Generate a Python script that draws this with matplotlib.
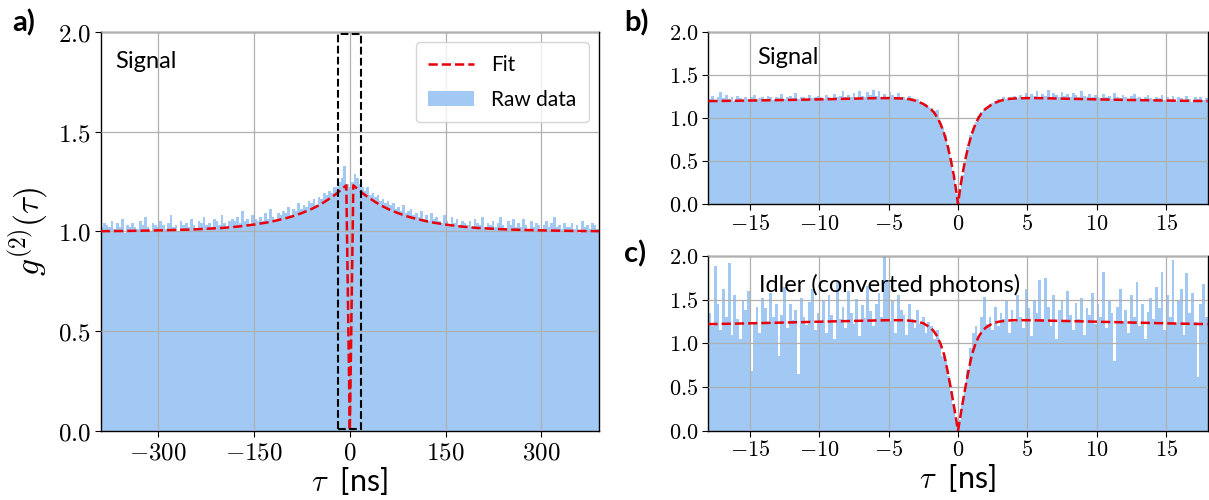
import numpy as np
import matplotlib
matplotlib.use("Agg")
import matplotlib.pyplot as plt
from matplotlib.ticker import FuncFormatter, MultipleLocator
from matplotlib.patches import Rectangle

plt.rcParams['font.family'] = ['Lato', 'DejaVu Sans']
plt.rcParams['mathtext.fontset'] = 'cm'

# ---- panel a: signal, wide window (4 ns bins, -390..390 ns) ----
raw_a = [
    1.02, 1.04,
    1.03, 1.02, 1.05, 1.01, 1.04, 1.02, 1.06, 0.99, 1.03, 1.02,
    1.04, 1.02, 1.01, 1.05, 1.03, 1.07, 1.02, 1.00, 1.04, 1.03,
    1.02, 1.05, 1.03, 1.01, 1.04, 1.08, 1.02, 1.03, 1.00, 1.05,
    1.03, 1.04, 1.02, 1.06, 1.03, 1.01, 1.05, 1.04, 1.07, 1.03,
    1.04, 1.02, 1.06, 1.05, 1.03, 1.08, 1.04, 1.02, 1.05, 1.06,
    1.05, 1.07, 1.04, 1.10, 1.05, 1.06, 1.03, 1.08, 1.06, 1.05,
    1.07, 1.05, 1.09, 1.06, 1.11, 1.07, 1.05, 1.09, 1.08, 1.10,
    1.09, 1.12, 1.08, 1.11, 1.10, 1.14, 1.11, 1.13, 1.12, 1.15,
    1.14, 1.16, 1.13, 1.17, 1.16, 1.19, 1.18, 1.20, 1.19, 1.22,
    1.22, 1.25, 1.27, 1.33, 1.24,
    1.22,
    1.25, 1.29, 1.27, 1.24, 1.22,
    1.20, 1.22, 1.18, 1.19, 1.17, 1.18, 1.15, 1.16, 1.14, 1.15,
    1.13, 1.14, 1.11, 1.12, 1.10, 1.13, 1.09, 1.10, 1.11, 1.08,
    1.09, 1.07, 1.10, 1.06, 1.08, 1.05, 1.09, 1.06, 1.07, 1.05,
    1.04, 1.08, 1.05, 1.03, 1.07, 1.04, 1.06, 1.02, 1.05, 1.04,
    1.03, 1.05, 1.02, 1.06, 1.04, 1.03, 1.07, 1.02, 1.04, 1.03,
    1.05, 1.02, 1.04, 1.07, 1.03, 1.01, 1.05, 1.03, 1.06, 1.02,
    1.04, 1.02, 1.06, 1.03, 1.01, 1.05, 1.02, 1.04, 1.03, 1.00,
    1.03, 1.05, 1.02, 1.04, 1.07, 1.02, 1.03, 1.01, 1.04, 1.02,
    1.02, 1.04, 1.01, 1.03, 0.99, 1.05, 1.02, 1.03, 1.01, 1.04,
    1.03, 1.01,
]
fit_a_tau = [0, 5.5, 10, 15, 20, 30, 40, 50, 60, 75, 90, 100, 125, 150, 175,
             200, 250, 300, 350, 390]
fit_a_g = [0.0, 1.231, 1.219, 1.205, 1.191, 1.168, 1.147, 1.128, 1.112, 1.092,
           1.075, 1.066, 1.047, 1.034, 1.024, 1.017, 1.009, 1.005, 1.002, 1.001]

# ---- panel b: signal, zoom (0.2 ns bins, -18..18 ns) ----
raw_b = [
    1.22, 1.26, 1.21, 1.25, 1.30, 1.23, 1.27, 1.22, 1.24, 1.20,
    1.26, 1.23, 1.21, 1.25, 1.22, 1.24, 1.27, 1.21, 1.23, 1.25,
    1.22, 1.26, 1.24, 1.21, 1.25, 1.23, 1.28, 1.22, 1.24, 1.26,
    1.23, 1.29, 1.22, 1.25, 1.24, 1.21, 1.27, 1.23, 1.25, 1.26,
    1.24, 1.22, 1.27, 1.25, 1.23, 1.28, 1.24, 1.26, 1.31, 1.24,
    1.27, 1.25, 1.29, 1.23, 1.32, 1.26, 1.24, 1.30, 1.27, 1.33,
    1.26, 1.31, 1.25, 1.28, 1.24, 1.30, 1.27, 1.25, 1.29, 1.24,
    1.24, 1.22, 1.26, 1.23, 1.21, 1.22, 1.19, 1.18, 1.16, 1.13,
    1.12, 1.08, 1.09, 0.97, 0.89, 0.80, 0.67, 0.51, 0.33, 0.12,
    0.13, 0.34, 0.50, 0.67, 0.80, 0.88, 0.96, 1.02, 1.07, 1.10,
    1.13, 1.16, 1.18, 1.20, 1.22, 1.21, 1.24, 1.22, 1.25, 1.23,
    1.26, 1.23, 1.27, 1.25, 1.29, 1.24, 1.28, 1.26, 1.31, 1.25,
    1.28, 1.26, 1.33, 1.25, 1.29, 1.27, 1.24, 1.30, 1.26, 1.28,
    1.25, 1.29, 1.27, 1.24, 1.31, 1.26, 1.25, 1.28, 1.24, 1.27,
    1.25, 1.23, 1.28, 1.24, 1.26, 1.22, 1.29, 1.25, 1.23, 1.27,
    1.24, 1.22, 1.26, 1.28, 1.23, 1.25, 1.21, 1.24, 1.27, 1.23,
    1.22, 1.25, 1.23, 1.27, 1.21, 1.24, 1.22, 1.26, 1.20, 1.24,
    1.23, 1.21, 1.26, 1.22, 1.19, 1.24, 1.22, 1.25, 1.21, 1.23,
]
fit_b_tau = [0, 0.1, 0.2, 0.3, 0.5, 0.75, 1.0, 1.25, 1.5, 1.75, 2.0, 2.5, 3.0,
             3.5, 4, 5, 6, 8, 10, 12, 14, 16, 18]
fit_b_g = [0.0, 0.12, 0.23, 0.33, 0.50, 0.68, 0.82, 0.93, 1.01, 1.07, 1.11,
           1.165, 1.20, 1.22, 1.228, 1.233, 1.232, 1.225, 1.218, 1.212, 1.207,
           1.202, 1.198]

# ---- panel c: idler (converted photons), zoom ----
raw_c = [
    1.35, 1.20, 1.88, 1.45, 1.15, 1.62, 1.30, 1.92, 1.10, 1.55,
    1.28, 1.05, 1.48, 1.38, 1.60, 0.68, 1.25, 1.42, 1.12, 1.52,
    1.40, 1.22, 1.58, 1.30, 1.45, 0.86, 1.33, 1.65, 1.18, 1.45,
    1.27, 1.38, 0.65, 1.52, 1.30, 1.21, 1.47, 1.62, 1.15, 1.35,
    1.26, 1.48, 1.12, 1.55, 1.32, 1.05, 1.70, 1.28, 1.42, 1.18,
    1.60, 1.35, 1.22, 1.51, 1.08, 1.44, 1.29, 1.66, 1.37, 1.20,
    1.45, 1.58, 1.30, 2.00, 1.72, 1.26, 1.50, 1.12, 1.55, 1.38,
    1.32, 1.10, 1.45, 1.28, 1.18, 1.38, 1.22, 1.30, 1.12, 1.25,
    1.20, 1.05, 1.15, 0.98, 0.85, 0.82, 0.63, 0.45, 0.30, 0.10,
    0.12, 0.31, 0.49, 0.70, 0.95, 1.12, 1.20, 1.08, 1.30, 1.53,
    1.22, 1.30, 1.15, 1.42, 1.20, 1.35, 1.28, 1.48, 1.12, 1.38,
    1.25, 1.55, 1.30, 1.18, 1.62, 1.40, 1.08, 1.48, 1.35, 1.72,
    1.28, 1.75, 1.42, 1.20, 1.55, 1.05, 1.38, 1.50, 1.25, 1.60,
    1.32, 1.15, 1.46, 1.28, 1.52, 1.10, 1.40, 1.33, 1.58, 1.22,
    1.45, 1.30, 1.82, 1.18, 1.50, 1.35, 0.80, 1.42, 1.62, 1.25,
    1.38, 1.12, 1.55, 1.30, 1.70, 1.20, 1.45, 1.05, 1.36, 1.52,
    1.28, 1.65, 1.40, 1.82, 1.15, 1.55, 1.30, 1.95, 1.22, 1.48,
    1.62, 1.10, 1.80, 1.35, 1.58, 1.25, 0.62, 1.45, 1.68, 1.30,
]
fit_c_tau = [0, 0.25, 0.5, 0.75, 1.0, 1.25, 1.5, 1.75, 2.0, 2.5, 3.0, 3.5, 4,
             5, 6, 8, 10, 12, 14, 16, 18]
fit_c_g = [0.0, 0.24, 0.47, 0.68, 0.87, 0.99, 1.08, 1.14, 1.18, 1.23, 1.25,
           1.26, 1.265, 1.265, 1.262, 1.255, 1.248, 1.24, 1.233, 1.226, 1.22]

BLUE = '#a1c9f4'
RED = '#e8000b'


def mirror(t, g):
    t = np.asarray(t, float)
    g = np.asarray(g, float)
    return np.concatenate([-t[:0:-1], t]), np.concatenate([g[:0:-1], g])


def style(ax, lim, step, fs):
    ax.set_xlim(-lim, lim)
    ax.set_ylim(0, 2.0)
    ax.xaxis.set_major_locator(MultipleLocator(step))
    ax.yaxis.set_major_locator(MultipleLocator(0.5))
    ax.xaxis.set_major_formatter(FuncFormatter(lambda v, p: f'${v:g}$'))
    ax.yaxis.set_major_formatter(FuncFormatter(lambda v, p: f'${v:.1f}$'))
    ax.tick_params(labelsize=fs, length=4, width=0.8, pad=3)
    ax.grid(True, color='#b0b0b0', lw=0.9)
    ax.set_axisbelow(False)
    for s in ax.spines.values():
        s.set_linewidth(1.0)


def draw(ax, raw, lim, ft, fg):
    edges = np.linspace(-lim, lim, len(raw) + 1)
    sp = ax.stairs(raw, edges, fill=True, color=BLUE, lw=0, zorder=1,
                   label='Raw data')
    tt, gg = mirror(ft, fg)
    ln, = ax.plot(tt, gg, ls='--', color=RED, lw=1.8, zorder=4, label='Fit')
    return sp, ln


fig = plt.figure(figsize=(12.09, 5.0), dpi=100)
ax_a = fig.add_axes([0.0833, 0.1386, 0.4121, 0.7974])
ax_b = fig.add_axes([0.5859, 0.5914, 0.4130, 0.3446])
ax_c = fig.add_axes([0.5859, 0.1386, 0.4130, 0.3494])

sp, ln = draw(ax_a, raw_a, 390, fit_a_tau, fit_a_g)
style(ax_a, 390, 150, 18)
ax_a.add_patch(Rectangle((-18, 0.01), 36, 1.98, fill=False, ec='black',
                         ls='--', lw=1.5, zorder=5))
ax_a.legend([ln, sp], ['Fit', 'Raw data'], loc='upper right', fontsize=15,
            handlelength=2.2, borderpad=0.6, labelspacing=0.7)
ax_a.text(0.03, 0.925, 'Signal', transform=ax_a.transAxes, fontsize=17,
          va='center', ha='left')
ax_a.set_xlabel(r'$\tau$  [ns]', fontsize=22, labelpad=1)
ax_a.set_ylabel(r'$g^{(2)}(\tau)$', fontsize=24, labelpad=6)

draw(ax_b, raw_b, 18, fit_b_tau, fit_b_g)
style(ax_b, 18, 5, 16)
ax_b.text(0.098, 0.85, 'Signal', transform=ax_b.transAxes, fontsize=17,
          va='center', ha='left')

draw(ax_c, raw_c, 18, fit_c_tau, fit_c_g)
style(ax_c, 18, 5, 16)
ax_c.text(0.102, 0.834, 'Idler (converted photons)', transform=ax_c.transAxes,
          fontsize=17, va='center', ha='left')
ax_c.set_xlabel(r'$\tau$  [ns]', fontsize=22, labelpad=1)

fig.text(0.010, 0.955, 'a)', fontsize=21, fontweight='bold', va='center')
fig.text(0.516, 0.955, 'b)', fontsize=21, fontweight='bold', va='center')
fig.text(0.516, 0.492, 'c)', fontsize=21, fontweight='bold', va='center')

fig.savefig('out.png', dpi=100)
